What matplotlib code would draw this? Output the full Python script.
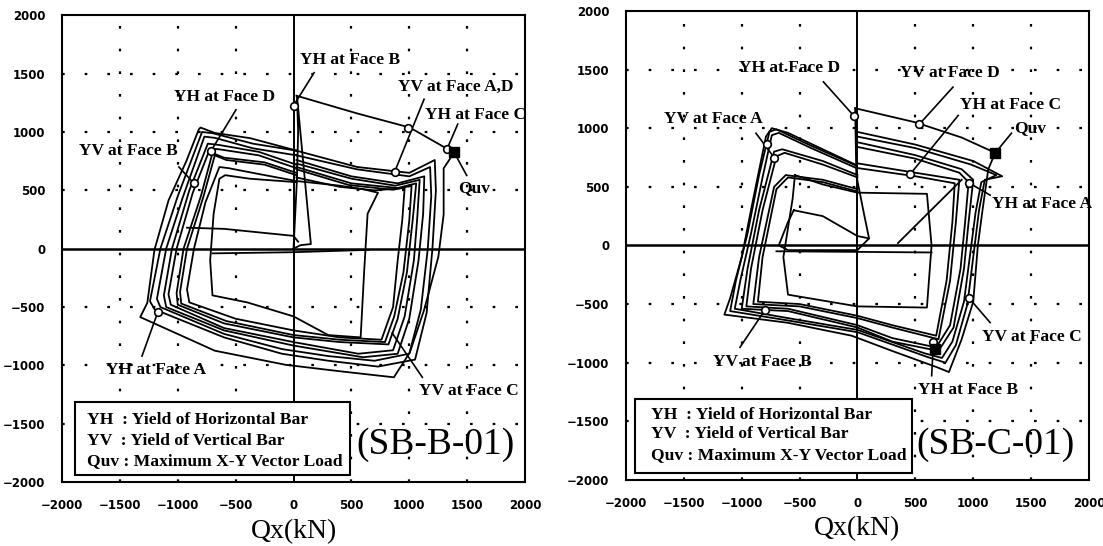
import matplotlib.pyplot as plt
from matplotlib.patches import Rectangle

# ---------------- SB-B-01 (left) : Qx, Qy in kN ----------------
b6_x = [25, 550, 1005, 1327, 1388, 1297, 1297, 1251, 1128, 1005, 867, 400, -67, -680, -1324, -1263, -1201, -1079, -926, -818, -803, -680, -374, 25]
b6_y = [1311, 1159, 1038, 856, 825, 689, 294, -70, -525, -889, -1102, -1050, -995, -874, -586, -464, -9, 416, 750, 1023, 1038, 992, 947, 841]
b5_x = [25, 550, 1000, 1220, 1230, 1200, 1150, 1050, 730, 300, -100, -600, -1200, -1240, -1150, -1000, -790, -700, -350, 25]
b5_y = [840, 700, 650, 760, 500, 0, -550, -950, -1010, -960, -900, -760, -520, -450, 0, 450, 1000, 990, 900, 840]
b5b_x = [25, 550, 1000, 1180, 1190, 1160, 1100, 1000, 700, 300, -100, -600, -1150, -1180, -1100, -960, -770, -680, -350, 25]
b5b_y = [800, 680, 620, 700, 450, 0, -520, -900, -960, -920, -860, -730, -500, -430, 0, 430, 960, 950, 860, 800]
b4_x = [25, 500, 900, 1130, 1120, 1080, 1000, 900, 600, 0, -600, -1100, -1120, -1050, -900, -740, -650, -300, 25]
b4_y = [760, 620, 560, 620, 300, -100, -600, -900, -930, -830, -700, -500, -400, 0, 500, 900, 890, 830, 720]
b4b_x = [25, 500, 880, 1090, 1070, 1040, 960, 860, 560, 0, -600, -1060, -1080, -1010, -870, -720, -630, -300, 25]
b4b_y = [730, 600, 540, 590, 280, -100, -580, -870, -900, -800, -680, -480, -390, 0, 480, 860, 850, 800, 690]
b3_x = [25, 500, 900, 1060, 1030, 980, 900, 820, 400, 0, -600, -1000, -1010, -950, -800, -700, -600, -250, 25]
b3_y = [700, 560, 520, 560, 250, -200, -600, -820, -800, -760, -640, -480, -380, 0, 450, 820, 780, 740, 650]
b3b_x = [25, 480, 860, 1020, 1000, 950, 870, 790, 400, 0, -580, -970, -980, -920, -780, -680, -580, -250, 25]
b3b_y = [680, 545, 505, 540, 240, -200, -580, -800, -780, -740, -620, -470, -370, 0, 440, 800, 760, 720, 630]
b2_x = [25, 400, 700, 960, 940, 900, 860, 760, 400, 0, -500, -900, -920, -860, -760, -640, -560, -300, 25]
b2_y = [610, 530, 500, 520, 250, -100, -500, -780, -760, -700, -600, -460, -350, 0, 400, 700, 690, 640, 580]
b1_x = [25, 400, 600, 730, 640, 610, 580, 300, 0, -400, -700, -720, -690, -640, -590, -380, 25]
b1_y = [580, 540, 510, 480, 300, -200, -760, -740, -580, -460, -400, -100, 300, 600, 630, 600, 570]
b0_x = [-700, 0, 650]
b0_y = [-40, -30, -10]
bh_x = [-920, -600, 0, 40]
bh_y = [180, 170, 110, 60]
bv_x = [0, 30, 40, 30, 150, 60, 0]
bv_y = [0, 600, 1000, 1310, 40, 30, 0]

b_open_x = [0, 990, 874, 1327, -711, -860, -1171]
b_open_y = [1226, 1038, 659, 856, 841, 560, -540]
b_qv = (1388, 825)

b_labels = ["YH at Face B", "YV at Face A,D", "YH at Face C", "Quv", "YH at Face D",
            "YV at Face B", "YH at Face A", "YV at Face C"]
b_text_x = [490, 1404, 1572, 1557, -598, -1425, -1186, 1511]
b_text_y = [1615, 1387, 1144, 522, 1296, 841, -1041, -1223]
b_lead_x0 = [178, 1128, 1419, 1496, -497, -990, -1309, 1113]
b_lead_y0 = [1508, 1281, 1068, 628, 1190, 700, -920, -1102]
b_lead_x1 = [0, 874, 1327, 1388, -711, -860, -1171, 852]
b_lead_y1 = [1226, 659, 856, 825, 841, 560, -540, -722]

# ---------------- SB-C-01 (right) ----------------
c6_x = [-20, 500, 900, 1190, 1130, 1080, 1040, 1000, 900, 790, 690, 300, -50, -600, -1150, -1100, -1000, -900, -790, -740, -600, -300, -20]
c6_y = [1170, 1050, 920, 790, 650, 300, 0, -480, -800, -1080, -1040, -900, -770, -660, -590, -450, -100, 400, 930, 1000, 960, 820, 690]
c5_x = [-10, 500, 1000, 1250, 1100, 1050, 1000, 950, 850, 760, 600, 0, -600, -1100, -1050, -950, -850, -760, -700, -400, -10]
c5_y = [970, 860, 720, 590, 560, 300, -100, -500, -850, -1000, -950, -740, -640, -560, -300, 100, 600, 970, 990, 850, 680]
c5b_x = [-10, 500, 980, 1200, 1070, 1020, 970, 920, 820, 730, 580, 0, -600, -1060, -1010, -920, -820, -740, -680, -400, -10]
c5b_y = [930, 830, 690, 600, 540, 280, -100, -480, -820, -960, -920, -720, -620, -540, -290, 100, 580, 940, 960, 830, 660]
c4_x = [0, 500, 900, 1000, 960, 920, 830, 700, 300, 0, -600, -1000, -950, -850, -720, -650, -300, 0]
c4_y = [880, 770, 650, 560, 200, -200, -700, -900, -820, -700, -560, -540, -200, 300, 800, 820, 720, 600]
c4b_x = [0, 500, 880, 960, 930, 890, 800, 680, 300, 0, -600, -960, -920, -820, -700, -630, -300, 0]
c4b_y = [840, 740, 620, 540, 200, -200, -680, -870, -790, -680, -540, -520, -200, 300, 760, 790, 690, 580]
c3_x = [0, 500, 880, 850, 800, 700, 300, 0, -500, -900, -850, -720, -620, -300, 0]
c3_y = [700, 620, 560, 200, -300, -800, -700, -620, -520, -500, -100, 500, 600, 560, 480]
c3b_x = [0, 500, 840, 820, 770, 680, 300, 0, -500, -860, -820, -700, -600, -300, 0]
c3b_y = [660, 590, 530, 200, -300, -770, -680, -600, -500, -480, -100, 480, 580, 540, 460]
c2_x = [-540, -300, 0, 600, 640, 600, 0, -600, -640, -560, -540]
c2_y = [600, 520, 450, 440, 0, -530, -520, -420, -100, 400, 600]
c1_x = [-550, -300, 0, 100, 0, -600, -680, -600, -550]
c1_y = [300, 250, 80, 60, -40, -40, 0, 200, 300]
c0_x = [-700, 0, 640]
c0_y = [-50, -55, -60]
cv_x = [-20, -10, 50, 100]
cv_y = [1170, 600, 300, 60]
cd_x = [350, 900]
cd_y = [20, 560]

c_open_x = [-34, 533, 457, -778, -717, 962, 962, -800, 656]
c_open_y = [1108, 1032, 610, 866, 746, 534, -447, -552, -824]
c_qv = (1192, 791)
c_dark = (671, -880)

c_labels = ["YH at Face D", "YV at Face D", "YH at Face C", "Quv", "YV at Face A",
            "YH at Face A", "YV at Face C", "YV at Face B", "YH at Face B"]
c_text_x = [-585, 794, 1321, 1490, -1244, 1591, 1505, -824, 953]
c_text_y = [1516, 1470, 1199, 1002, 1078, 353, -779, -990, -1232]
c_lead_x0 = [-294, 825, 870, 1330, -877, 1146, 1146, -1015, 641]
c_lead_y0 = [1395, 1350, 1108, 957, 957, 429, -658, -869, -1111]
c_lead_x1 = [-34, 533, 457, 1192, -717, 962, 962, -800, 656]
c_lead_y1 = [1108, 1032, 610, 791, 746, 534, -447, -552, -824]

ticks = [-2000, -1500, -1000, -500, 0, 500, 1000, 1500, 2000]
legend_lines = ["YH  : Yield of Horizontal Bar",
                "YV  : Yield of Vertical Bar",
                "Quv : Maximum X-Y Vector Load"]

serif = "Liberation Serif"

fig = plt.figure(figsize=(11.03, 5.46), dpi=100)


def panel(ax, loops, open_x, open_y, filled, labels, tx, ty, lx0, ly0, lx1, ly1,
          box, leg_x, leg_y, name, name_xy):
    ax.set_xlim(-2000, 2000)
    ax.set_ylim(-2000, 2000)
    ax.set_xticks(ticks)
    ax.set_yticks(ticks)
    ax.tick_params(length=0, pad=12, labelsize=8.5)
    for lab in ax.get_xticklabels() + ax.get_yticklabels():
        lab.set_fontweight("bold")
    for s in ax.spines.values():
        s.set_linewidth(1.5)
    for v in [-1500, -1000, -500, 500, 1000, 1500]:
        ax.axvline(v, color="k", lw=1.6, ls=(0, (1.2, 9)), zorder=1)
        ax.axhline(v, color="k", lw=1.6, ls=(0, (1.2, 9)), zorder=1)
    ax.axvline(0, color="k", lw=1.4, zorder=1)
    ax.axhline(0, color="k", lw=1.8, zorder=1)
    for x, y in loops:
        ax.plot(x, y, color="k", lw=1.3, zorder=2)
    for i in range(len(labels)):
        ax.plot([lx0[i], lx1[i]], [ly0[i], ly1[i]], color="k", lw=1.2, zorder=3)
        ax.text(tx[i], ty[i], labels[i], ha="center", va="center", family=serif,
                fontsize=12.5, fontweight="bold", zorder=5)
    ax.plot(open_x, open_y, "o", ms=5.5, mfc="white", mec="k", mew=1.2, zorder=4)
    for p in filled:
        ax.plot(p[0], p[1], "s", ms=7, color="k", zorder=4)
    bx0, bx1, by0, by1 = box
    ax.add_patch(Rectangle((bx0, by0), bx1 - bx0, by1 - by0, fc="white", ec="k",
                           lw=1.5, zorder=6))
    for line, y in zip(legend_lines, leg_y):
        ax.text(leg_x, y, line, ha="left", va="center", family=serif,
                fontsize=12.6, fontweight="bold", zorder=7)
    ax.text(name_xy[0], name_xy[1], name, ha="center", va="center", family=serif,
            fontsize=27, zorder=7)
    ax.set_xlabel("Qx(kN)", family=serif, fontsize=20, labelpad=5)


ax1 = fig.add_axes([0.0562, 0.117, 0.4198, 0.855])
panel(ax1,
      [(b6_x, b6_y), (b5_x, b5_y), (b5b_x, b5b_y), (b4_x, b4_y), (b4b_x, b4b_y),
       (b3_x, b3_y), (b3b_x, b3b_y), (b2_x, b2_y), (b1_x, b1_y),
       (b0_x, b0_y), (bh_x, bh_y), (bv_x, bv_y)],
      b_open_x, b_open_y, [b_qv],
      b_labels, b_text_x, b_text_y, b_lead_x0, b_lead_y0, b_lead_x1, b_lead_y1,
      (-1891, 484, -1936, -1314), -1784, [-1466, -1648, -1824],
      "(SB-B-01)", (1226, -1678))

ax2 = fig.add_axes([0.5675, 0.121, 0.4198, 0.859])
panel(ax2,
      [(c6_x, c6_y), (c5_x, c5_y), (c5b_x, c5b_y), (c4_x, c4_y), (c4b_x, c4b_y),
       (c3_x, c3_y), (c3b_x, c3b_y), (c2_x, c2_y), (c1_x, c1_y),
       (c0_x, c0_y), (cv_x, cv_y), (cd_x, cd_y)],
      c_open_x, c_open_y, [c_qv, c_dark],
      c_labels, c_text_x, c_text_y, c_lead_x0, c_lead_y0, c_lead_x1, c_lead_y1,
      (-1919, 472, -1941, -1307), -1781, [-1443, -1609, -1790],
      "(SB-C-01)", (1192, -1700))

fig.savefig("out.png", dpi=100)
